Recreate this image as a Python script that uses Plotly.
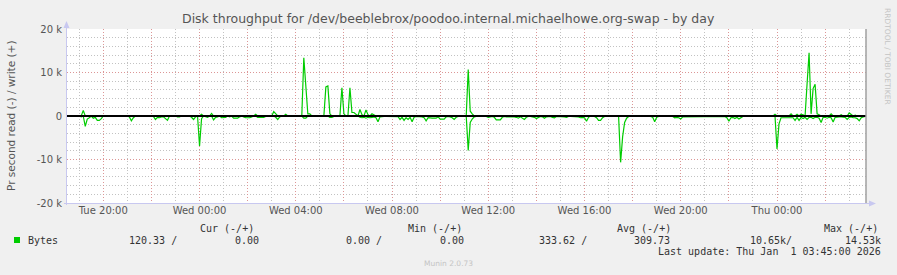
import pandas as pd
import plotly.graph_objects as go

# ---------------- data (5-minute samples, bytes per second) ----------------
start_time = "2025-12-30 18:30"
n_samples = 399

read_bytes = [
    0, 0, 0, 0, 0, 0, 0, 200, 0, 2400, 700, 400, 0, 500, 300, 1000, 1000, 600, 0, 0,
    0, 0, 0, 0, 0, 100, 0, 0, 0, 0, 0, 200, 1100, 400, 0, 0, 0, 0, 0, 0,
    0, 0, 0, 100, 800, 300, 400, 200, 200, 600, 1000, 0, 0, 0, 0, 200, 200, 0, 0, 0,
    0, 0, 300, 800, 200, 0, 6900, 600, 0, 200, 300, 0, 0, 900, 300, 200, 0, 400, 400, 300,
    0, 200, 0, 500, 500, 500, 200, 0, 200, 400, 400, 400, 200, 0, 0, 300, 300, 300, 300, 100,
    0, 0, 0, 0, 300, 800, 200, 0, 0, 0, 0, 0, 0, 0, 0, 0, 0, 0, 500, 500,
    0, 0, 0, 0, 0, 0, 0, 0, 0, 0, 0, 300, 300, 100, 100, 100, 100, 0, 0, 0,
    0, 0, 0, 0, 0, 0, 300, 400, 300, 500, 300, 400, 300, 200, 400, 1300, 200, 100, 100, 100,
    100, 150, 150, 150, 150, 150, 800, 300, 1000, 400, 800, 300, 1300, 300, 100, 100, 200, 200, 400, 1100,
    400, 500, 500, 500, 500, 200, 700, 700, 700, 200, 100, 200, 400, 800, 300, 100, 100, 100, 100, 0,
    7900, 1500, 700, 200, 100, 100, 100, 100, 100, 100, 300, 200, 100, 300, 900, 900, 900, 300, 100, 200,
    200, 100, 100, 200, 300, 500, 200, 600, 800, 300, 100, 100, 200, 300, 600, 300, 100, 200, 500, 200,
    100, 100, 300, 400, 100, 100, 100, 100, 200, 300, 100, 100, 100, 100, 100, 200, 400, 300, 400, 1200,
    300, 0, 0, 100, 400, 1000, 1000, 400, 100, 100, 100, 100, 100, 100, 100, 100, 10650, 4800, 1500, 500,
    100, 100, 100, 100, 100, 100, 100, 100, 100, 100, 100, 100, 300, 1300, 300, 100, 100, 100, 100, 100,
    100, 100, 100, 400, 300, 400, 700, 200, 200, 200, 200, 200, 200, 100, 100, 100, 100, 100, 100, 100,
    100, 100, 100, 100, 100, 100, 100, 100, 100, 400, 1200, 400, 300, 600, 300, 700, 300, 100, 100, 100,
    100, 100, 100, 100, 100, 100, 100, 100, 100, 100, 100, 100, 100, 0, 7600, 1800, 400, 400, 400, 300,
    400, 300, 400, 1000, 300, 1000, 300, 600, 300, 800, 300, 300, 600, 300, 300, 500, 1500, 300, 300, 500,
    300, 400, 1400, 300, 200, 200, 200, 200, 300, 800, 300, 200, 400, 400, 600, 1100, 400, 200, 120,
]

write_bytes = [
    0, 0, 0, 0, 0, 0, 0, 0, 1300, 0, 0, 0, 0, 0, 0, 0, 0, 0, 0, 0,
    0, 0, 0, 0, 0, 0, 0, 0, 0, 0, 0, 0, 0, 0, 0, 0, 0, 0, 0, 0,
    0, 0, 0, 0, 0, 0, 0, 0, 0, 0, 0, 0, 0, 0, 0, 0, 0, 0, 0, 0,
    0, 0, 0, 0, 0, 0, 0, 400, 0, 0, 0, 0, 600, 0, 0, 0, 0, 0, 0, 0,
    0, 0, 0, 0, 0, 0, 0, 0, 0, 0, 0, 0, 0, 0, 400, 0, 0, 0, 0, 0,
    0, 0, 0, 1000, 500, 0, 0, 0, 0, 400, 0, 0, 0, 0, 0, 0, 0, 0, 13400, 7700,
    500, 500, 0, 0, 0, 0, 0, 0, 0, 6700, 6900, 500, 0, 0, 0, 0, 0, 6500, 500, 0,
    0, 6500, 800, 800, 300, 0, 1500, 300, 0, 1400, 300, 0, 500, 300, 0, 0, 0, 0, 0, 0,
    0, 0, 0, 0, 0, 0, 0, 0, 0, 0, 0, 0, 0, 0, 0, 0, 0, 0, 0, 0,
    0, 0, 0, 0, 0, 0, 0, 0, 0, 0, 0, 0, 0, 0, 0, 0, 0, 0, 0, 0,
    10700, 1100, 500, 0, 0, 0, 0, 0, 0, 0, 0, 0, 0, 0, 0, 0, 0, 0, 0, 0,
    0, 0, 0, 0, 0, 0, 0, 0, 0, 0, 0, 0, 0, 0, 0, 0, 0, 0, 0, 0,
    0, 0, 0, 0, 0, 0, 0, 0, 0, 0, 0, 0, 0, 0, 0, 0, 0, 0, 0, 0,
    0, 0, 0, 0, 0, 0, 0, 0, 0, 0, 0, 0, 0, 0, 0, 0, 0, 0, 0, 0,
    0, 0, 0, 0, 0, 0, 0, 0, 0, 0, 0, 0, 0, 0, 0, 0, 0, 0, 0, 0,
    0, 0, 0, 0, 0, 0, 0, 0, 0, 0, 0, 0, 0, 0, 0, 0, 0, 0, 0, 0,
    0, 0, 0, 0, 0, 0, 0, 0, 0, 0, 0, 0, 0, 0, 0, 0, 0, 0, 0, 0,
    0, 0, 0, 0, 0, 0, 0, 0, 0, 0, 0, 0, 0, 400, 0, 0, 0, 0, 0, 0,
    0, 500, 0, 0, 400, 0, 400, 300, 0, 7400, 14530, 500, 6300, 7300, 500, 300, 0, 0, 0, 0,
    0, 500, 0, 0, 0, 0, 300, 0, 0, 0, 700, 300, 0, 200, 0, 0, 0, 0, 0,
]

x_tick_vals = ["2025-12-30 20:00", "2025-12-30 22:00", "2025-12-31 00:00", "2025-12-31 02:00",
               "2025-12-31 04:00", "2025-12-31 06:00", "2025-12-31 08:00", "2025-12-31 10:00",
               "2025-12-31 12:00", "2025-12-31 14:00", "2025-12-31 16:00", "2025-12-31 18:00",
               "2025-12-31 20:00", "2025-12-31 22:00", "2026-01-01 00:00", "2026-01-01 02:00"]
x_tick_text = ["Tue 20:00", "", "Wed 00:00", "", "Wed 04:00", "", "Wed 08:00", "",
               "Wed 12:00", "", "Wed 16:00", "", "Wed 20:00", "", "Thu 00:00", ""]
y_tick_vals = [-20000, -10000, 0, 10000, 20000]
y_tick_text = ["-20 k", "-10 k", "0", "10 k", "20 k"]

legend_headers = ["Cur (-/+)", "Min (-/+)", "Avg (-/+)", "Max (-/+)"]
legend_values = ["120.33 /", "0.00", "0.00 /", "0.00", "333.62 /", "309.73", "10.65k/", "14.53k"]

# ---------------- figure ----------------
W, H = 897, 275
L, R, T, B = 67, 31, 29, 72
PW, PH = W - L - R, H - T - B

times = pd.date_range(start_time, periods=n_samples, freq="5min")
neg_read = [-v for v in read_bytes]

GREEN = "#00cc00"
fig = go.Figure()
fig.add_trace(go.Scatter(x=times, y=neg_read, mode="lines",
                         line=dict(color=GREEN, width=1.2), hoverinfo="skip"))
fig.add_trace(go.Scatter(x=times, y=write_bytes, mode="lines",
                         line=dict(color=GREEN, width=1.2), hoverinfo="skip"))


def px(xp):
    return (xp - L) / PW


def py(yp):
    return (T + PH - yp) / PH


ann = []


def text(s, xp, yp, xanchor="left", size=10, color="#333", family="DejaVu Sans Mono", angle=0):
    ann.append(dict(text=s, x=px(xp), y=py(yp), xref="paper", yref="paper",
                    xanchor=xanchor, yanchor="middle", showarrow=False, textangle=angle,
                    font=dict(size=size, color=color, family=family)))


# title
text("Disk throughput for /dev/beeblebrox/poodoo.internal.michaelhowe.org-swap - by day",
     448.5, 19, "center", 12.5, "#555", "DejaVu Sans")
# y label
text("Pr second read (-) / write (+)", 11, 116, "center", 10.5, "#555", "DejaVu Sans", -90)
# right vertical credit
text("RRDTOOL / TOBI OETIKER", 888, 56, "center", 7.5, "#c4c4c4", "DejaVu Sans", 90)
# legend
hx = [198, 406, 615, 822]
for s, x in zip(legend_headers, hx):
    text(s, x, 228, "left")
text("Bytes", 26, 240, "left")
val_pos = [(127, "left"), (261, "right"), (344, "left"), (466, "right"),
           (537, "left"), (672, "right"), (748, "left"), (883, "right")]
for s, (x, a) in zip(legend_values, val_pos):
    text(s, x, 240, a)
text("Last update: Thu Jan \u00a01 03:45:00 2026", 883, 251, "right")
text("Munin 2.0.73", 448, 263, "center", 7.5, "#c4c4c4", "DejaVu Sans")

shapes = [
    # zero line
    dict(type="line", xref="paper", yref="y", x0=0, x1=1, y0=0, y1=0,
         line=dict(color="#000000", width=2), layer="above"),
    # right border
    dict(type="line", xref="paper", yref="paper", x0=1, x1=1, y0=0, y1=1,
         line=dict(color="#a0a0a0", width=1.5), layer="above"),
    # left axis
    dict(type="line", xref="paper", yref="paper", x0=px(66.5), x1=px(66.5), y0=py(205), y1=py(24),
         line=dict(color="#c8c8f0", width=1), layer="above"),
    # bottom axis
    dict(type="line", xref="paper", yref="paper", x0=px(64), x1=px(871), y0=py(203.5), y1=py(203.5),
         line=dict(color="#c8c8f0", width=1), layer="above"),
    # arrows
    dict(type="path", xref="paper", yref="paper",
         path=f"M {px(63.5)} {py(28)} L {px(69.5)} {py(28)} L {px(66.5)} {py(21)} Z",
         fillcolor="#c8c8f0", line=dict(width=0), layer="above"),
    dict(type="path", xref="paper", yref="paper",
         path=f"M {px(869)} {py(200.5)} L {px(869)} {py(206.5)} L {px(876)} {py(203.5)} Z",
         fillcolor="#c8c8f0", line=dict(width=0), layer="above"),
    # legend swatch
    dict(type="rect", xref="paper", yref="paper", x0=px(14), x1=px(20), y0=py(237), y1=py(243),
         fillcolor=GREEN, line=dict(width=0)),
]

MAJOR = "#dc9696"
MINOR = "#c2c2c2"
fig.update_layout(
    width=W, height=H, margin=dict(l=L, r=R, t=T, b=B),
    paper_bgcolor="#f0f0f0", plot_bgcolor="#ffffff",
    showlegend=False, annotations=ann, shapes=shapes,
    xaxis=dict(type="date", range=["2025-12-30 18:29:28", "2026-01-01 03:41:56"],
               tickmode="array", tickvals=x_tick_vals, ticktext=x_tick_text,
               showgrid=True, gridcolor=MAJOR, griddash="1px,2px", gridwidth=1,
               showline=False, zeroline=False, ticks="",
               tickfont=dict(family="DejaVu Sans", size=10, color="#555"),
               minor=dict(dtick=3600000, tick0="2025-12-30 00:00", showgrid=True,
                          gridcolor=MINOR, griddash="1px,2px", gridwidth=1)),
    yaxis=dict(range=[-20000, 20000], tickmode="array", tickvals=y_tick_vals, ticktext=y_tick_text,
               showgrid=True, gridcolor=MAJOR, griddash="1px,2px", gridwidth=1,
               showline=False, zeroline=False, ticks="", ticklabelstandoff=4,
               tickfont=dict(family="DejaVu Sans", size=10, color="#555"),
               minor=dict(dtick=2000, tick0=0, showgrid=True,
                          gridcolor=MINOR, griddash="1px,2px", gridwidth=1)),
)

fig.write_html("out.html")
